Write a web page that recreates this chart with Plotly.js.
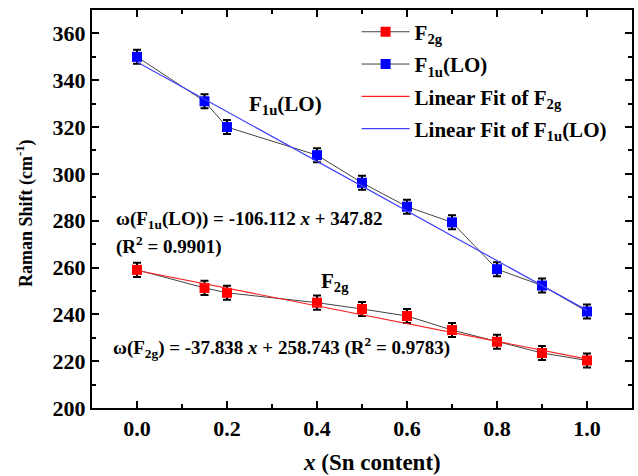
<!DOCTYPE html>
<html>
<head>
<meta charset="utf-8">
<script src="https://cdn.plot.ly/plotly-3.0.1.min.js"></script>
<style>html,body{margin:0;padding:0;background:#fff;}#chart{width:638px;height:476px;}</style>
</head>
<body>
<div id="chart"></div>
<script>
// Data
const xSn = [0.0, 0.15, 0.2, 0.4, 0.5, 0.6, 0.7, 0.8, 0.9, 1.0];
const f2g = [259.0, 251.3, 249.2, 245.0, 242.3, 239.3, 233.3, 228.3, 223.5, 220.3];
const f2gErr = [3, 3, 3, 3, 3, 3, 3, 3, 3, 3];
const f1u = [350.0, 331.0, 320.0, 308.0, 296.2, 286.0, 279.3, 259.3, 252.3, 241.2];
const f1uErr = [3, 3, 3, 3, 3, 3, 3, 3, 3, 3];
const fitX = [0.0, 1.0];
const fitF2g = [258.743, 220.905];
const fitF1u = [347.82, 241.708];
const xTicks = [0, 0.2, 0.4, 0.6, 0.8, 1.0];
const xTickText = ['0.0', '0.2', '0.4', '0.6', '0.8', '1.0'];
const yTicks = [200, 220, 240, 260, 280, 300, 320, 340, 360];
const yTickText = ['200', '220', '240', '260', '280', '300', '320', '340', '360'];

const FONT = "Liberation Serif, Times New Roman, serif";
const bold = a => a.map(s => '<b>' + s + '</b>');

const traces = [
  {x: xSn, y: f2g, type: 'scatter', mode: 'lines+markers', name: '<b>F<sub>2g</sub></b>',
   legendgroup: 'a',
   line: {color: '#444444', width: 1},
   marker: {symbol: 'square', size: 10, color: '#ff0000', line: {color: '#ff0000', width: 0}},
   error_y: {type: 'data', array: f2gErr, visible: true, color: '#000', thickness: 2, width: 4}},
  {x: xSn, y: f1u, type: 'scatter', mode: 'lines+markers', name: '<b>F<sub>1u</sub>(LO)</b>',
   legendgroup: 'b',
   line: {color: '#444444', width: 1},
   marker: {symbol: 'square', size: 10, color: '#0000ff', line: {color: '#0000ff', width: 0}},
   error_y: {type: 'data', array: f1uErr, visible: true, color: '#000', thickness: 2, width: 4}},
  {x: fitX, y: fitF2g, type: 'scatter', mode: 'lines', name: '<b>Linear Fit of F<sub>2g</sub></b>',
   legendgroup: 'c',
   line: {color: '#ff2020', width: 1.2}},
  {x: fitX, y: fitF1u, type: 'scatter', mode: 'lines', name: '<b>Linear Fit of F<sub>1u</sub>(LO)</b>',
   legendgroup: 'd',
   line: {color: '#4040ff', width: 1.2}}
];

const axisCommon = {
  showline: true, linecolor: '#000', linewidth: 2, mirror: 'ticks',
  ticks: 'inside', ticklen: 7, tickwidth: 2, tickcolor: '#000',
  showgrid: false, zeroline: false,
  tickfont: {family: FONT, size: 22, color: '#000', weight: 'bold'}
};

const layout = {
  width: 638, height: 476,
  margin: {l: 92, r: 6, t: 10, b: 68},
  paper_bgcolor: '#fff', plot_bgcolor: '#fff',
  font: {family: FONT, color: '#000'},
  showlegend: true,
  legend: {x: 0.49, y: 0.996, xanchor: 'left', yanchor: 'top',
           bgcolor: 'rgba(0,0,0,0)', traceorder: 'grouped', tracegroupgap: 2,
           itemwidth: 48,
           font: {family: FONT, size: 21, color: '#000'}},
  xaxis: Object.assign({}, axisCommon, {
    range: [-0.1, 1.1], tickvals: xTicks, ticktext: bold(xTickText),
    minor: {dtick: 0.1, tick0: 0, ticks: 'inside', ticklen: 4, tickwidth: 2, tickcolor: '#000'}
  }),
  yaxis: Object.assign({}, axisCommon, {
    range: [200, 370], tickvals: yTicks, ticktext: bold(yTickText),
    minor: {dtick: 10, tick0: 200, ticks: 'inside', ticklen: 4, tickwidth: 2, tickcolor: '#000'}
  }),
  annotations: [
    {x: -0.124, y: 0.49, xref: 'paper', yref: 'paper', xanchor: 'center', yanchor: 'middle', textangle: -90,
     text: '<b>Raman Shift (cm<sup>-1</sup>)</b>', showarrow: false,
     font: {family: FONT, size: 18, color: '#000'}},
    {x: 0.519, y: -0.138, xref: 'paper', yref: 'paper', xanchor: 'center', yanchor: 'middle',
     text: '<b><i>x</i> (Sn content)</b>', showarrow: false,
     font: {family: FONT, size: 23, color: '#000'}},
    {x: 0.33, y: 329.5, xref: 'x', yref: 'y', text: '<b>F<sub>1u</sub>(LO)</b>', showarrow: false,
     font: {family: FONT, size: 21, color: '#000'}},
    {x: -0.052, y: 280.5, xref: 'x', yref: 'y', xanchor: 'left', text: '<b>ω(F<sub>1u</sub>(LO)) = -106.112 <i>x</i> + 347.82</b>', showarrow: false,
     font: {family: FONT, size: 19, color: '#000'}},
    {x: -0.052, y: 269.5, xref: 'x', yref: 'y', xanchor: 'left', text: '<b>(R<sup>2</sup> = 0.9901)</b>', showarrow: false,
     font: {family: FONT, size: 19, color: '#000'}},
    {x: 0.44, y: 254, xref: 'x', yref: 'y', text: '<b>F<sub>2g</sub></b>', showarrow: false,
     font: {family: FONT, size: 21, color: '#000'}},
    {x: -0.058, y: 226, xref: 'x', yref: 'y', xanchor: 'left', text: '<b>ω(F<sub>2g</sub>) = -37.838 <i>x</i> + 258.743 (R<sup>2</sup> = 0.9783)</b>', showarrow: false,
     font: {family: FONT, size: 19, color: '#000'}}
  ]
};

Plotly.newPlot('chart', traces, layout, {displayModeBar: false, staticPlot: true});
</script>
</body>
</html>
